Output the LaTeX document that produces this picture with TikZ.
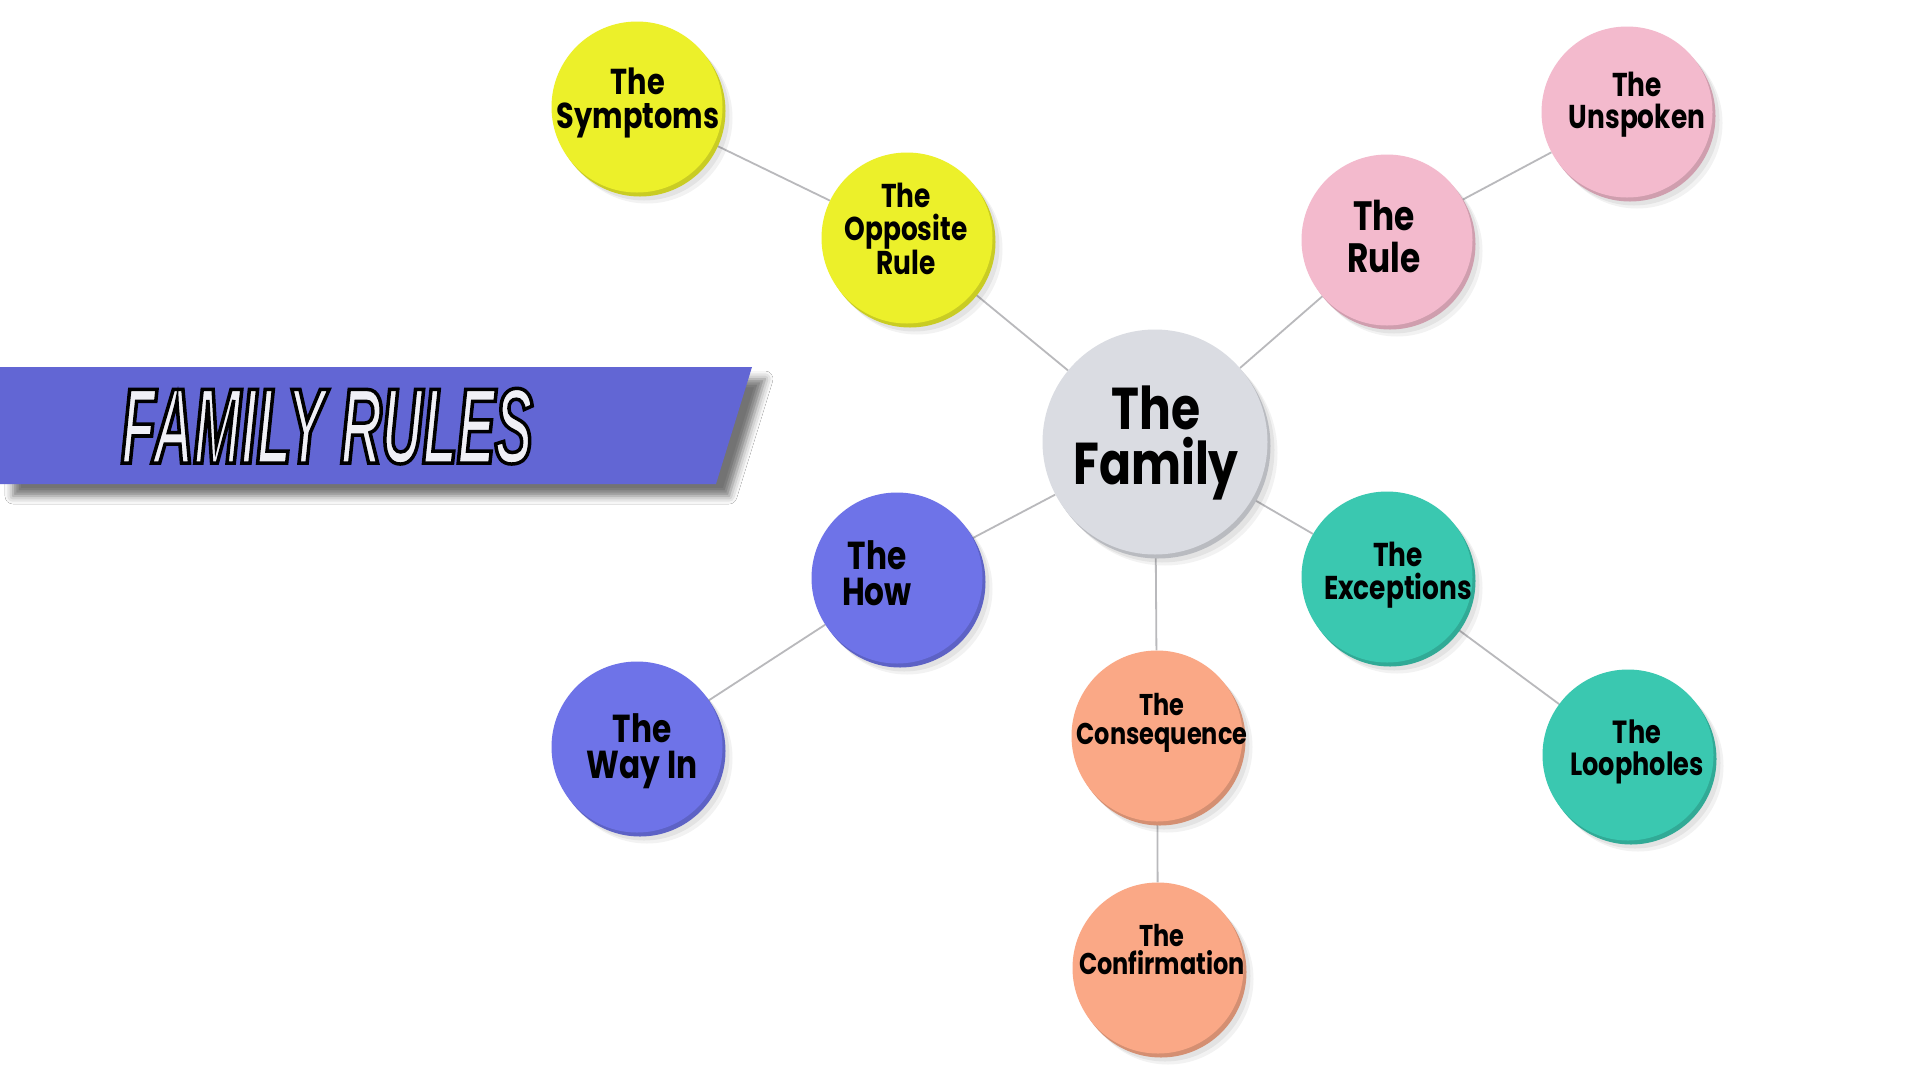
\documentclass[tikz,border=0pt]{standalone}
\usepackage{fontspec}
\usetikzlibrary{shadows.blur,backgrounds}
\newfontfamily\handfont{Poppins}[FakeStretch=0.8]
\newfontfamily\bannerfont{Liberation Sans}[FakeStretch=0.53]
\definecolor{cyel}{RGB}{236,240,42}
\definecolor{cpink}{RGB}{243,186,205}
\definecolor{cgrey}{RGB}{218,220,226}
\definecolor{cblue}{RGB}{110,115,232}
\definecolor{cteal}{RGB}{58,200,176}
\definecolor{csalm}{RGB}{250,168,134}
\definecolor{cbanner}{RGB}{98,102,212}
\definecolor{clink}{RGB}{185,185,188}
\definecolor{ctitle}{RGB}{240,240,246}
\tikzset{
  disc/.style={circle, inner sep=0pt, minimum size=171pt, fill=#1, draw=none,
    general shadow={fill=black, opacity=0.05, shadow xshift=10pt, shadow yshift=-11pt},
    general shadow={fill=black, opacity=0.06, shadow xshift=7pt, shadow yshift=-8pt},
    general shadow={fill=#1!85!black, shadow xshift=3pt, shadow yshift=-4pt}},
  lbl/.style={align=center, text=black, inner sep=0pt, anchor=center},
  link/.style={draw=clink, line width=1.8pt},
}
\newcommand{\hf}[2]{\handfont\bfseries\fontsize{#1}{#2}\selectfont}
\begin{document}
\begin{tikzpicture}[x=1pt,y=-1pt]
\useasboundingbox (0,0) rectangle (1920,1080);
% banner
\path[fill=cbanner, blur shadow={shadow xshift=13pt, shadow yshift=-12pt, shadow opacity=55, shadow blur radius=8pt}]
  (0,367) -- (752,367) -- (716,484) -- (0,484) -- cycle;
\node[anchor=base, inner sep=0pt, text=ctitle, font=\bannerfont\bfseries\itshape\fontsize{107}{107}\selectfont] (title) at (327,463)
  {\special{pdf:literal direct 0 0 0 RG 2 Tr 3.5 w}FAMILY RULES\special{pdf:literal direct 0 Tr}};
% discs
\node[disc=cyel] (sym) at (637,107) {};
\node[disc=cyel] (opp) at (907,238) {};
\node[disc=cpink] (rule) at (1387,240) {};
\node[disc=cpink] (unsp) at (1627,112) {};
\node[disc=cgrey, minimum size=225pt] (fam) at (1155,442) {};
\node[disc=cblue] (how) at (897,578) {};
\node[disc=cblue] (way) at (637,747) {};
\node[disc=cteal] (exc) at (1387,577) {};
\node[disc=cteal] (loop) at (1628,755) {};
\node[disc=csalm] (cons) at (1157,736) {};
\node[disc=csalm] (conf) at (1158,968) {};
% labels
\node[lbl, font=\hf{36}{34}] (tsym) at (638,103) {The\\Symptoms};
\node[lbl, font=\hf{33}{33}] (topp) at (906,229) {The\\Opposite\\Rule};
\node[lbl, font=\hf{41}{42}] (trule) at (1384,236) {The\\Rule};
\node[lbl, font=\hf{33}{32}] (tunsp) at (1637,105) {The\\Unspoken};
\node[lbl, font=\hf{59}{55}] (tfam) at (1156,443) {The\\Family};
\node[lbl, font=\hf{39}{36}] (thow) at (877,573) {The\\How};
\node[lbl, font=\hf{39}{36}] (tway) at (642,751) {The\\Way In};
\node[lbl, font=\hf{33}{33}] (texc) at (1398,575) {The\\Exceptions};
\node[lbl, font=\hf{32}{32}] (tloop) at (1637,752) {The\\Loopholes};
\node[lbl, font=\hf{30}{29}] (tcons) at (1162,723) {The\\Consequence};
\node[lbl, font=\hf{30}{28}] (tconf) at (1162,950) {The\\Confirmation};
% connectors
\begin{pgfonlayer}{background}
\fill[white] (0,0) rectangle (1920,1080);
\draw[link] (fam) -- (opp);
\draw[link] (fam) -- (rule);
\draw[link] (fam) -- (how);
\draw[link] (fam) -- (exc);
\draw[link] (fam) -- (cons);
\draw[link] (sym) -- (opp);
\draw[link] (rule) -- (unsp);
\draw[link] (how) -- (way);
\draw[link] (exc) -- (loop);
\draw[link] (cons) -- (conf);
\end{pgfonlayer}
\end{tikzpicture}
\end{document}
